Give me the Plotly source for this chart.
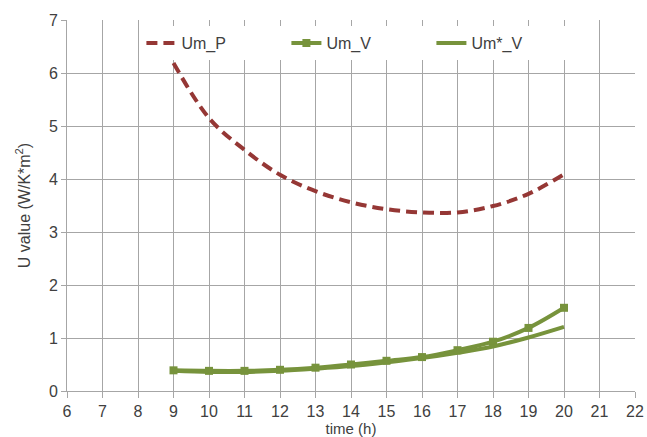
import plotly.graph_objects as go

hours = [9, 10, 11, 12, 13, 14, 15, 16, 17, 18, 19, 20]
um_p = [6.19, 5.15, 4.55, 4.08, 3.77, 3.56, 3.43, 3.37, 3.37, 3.49, 3.72, 4.09]
um_v = [0.39, 0.38, 0.38, 0.40, 0.44, 0.50, 0.57, 0.64, 0.77, 0.93, 1.19, 1.57]
um_star_v = [0.38, 0.36, 0.36, 0.38, 0.42, 0.47, 0.54, 0.62, 0.72, 0.84, 1.01, 1.21]

red = "#953735"
green = "#77933C"
grid = "#A6A6A6"
font = "Liberation Sans"

fig = go.Figure()
fig.add_trace(go.Scatter(x=hours, y=um_p, name="Um_P", mode="lines",
                         line=dict(color=red, width=4, dash="11px,6px", shape="spline")))
fig.add_trace(go.Scatter(x=hours, y=um_v, name="Um_V", mode="lines+markers",
                         line=dict(color=green, width=4, shape="spline"),
                         marker=dict(symbol="square", size=8, color=green)))
fig.add_trace(go.Scatter(x=hours, y=um_star_v, name="Um*_V", mode="lines",
                         line=dict(color=green, width=4, shape="spline")))

fig.update_layout(
    width=647, height=437,
    margin=dict(l=67, r=12, t=20, b=46),
    paper_bgcolor="white", plot_bgcolor="white",
    font=dict(family=font, size=16, color="#404040"),
    showlegend=True,
    legend=dict(orientation="h", x=0.131, y=0.938, xanchor="left", yanchor="middle",
                bgcolor="white", font=dict(size=16, color="#404040"),
                entrywidth=100, entrywidthmode="pixels", itemwidth=30,
                tracegroupgap=0),
    xaxis=dict(range=[6, 22], dtick=1, tick0=6, showgrid=True, gridcolor=grid, gridwidth=1,
               showline=True, linecolor=grid, linewidth=1, ticks="outside", ticklen=6,
               tickcolor=grid, zeroline=False, automargin=False,
               title=dict(text="time (h)", font=dict(size=15), standoff=3)),
    yaxis=dict(range=[0, 7], dtick=1, tick0=0, showgrid=True, gridcolor=grid, gridwidth=1,
               showline=True, linecolor=grid, linewidth=1, ticks="outside", ticklen=5,
               tickcolor=grid, zeroline=False, automargin=False,
               title=dict(text="U value (W/K*m<sup>2</sup>)", font=dict(size=16), standoff=14)),
)

fig.write_html("out.html", config={"displayModeBar": False},
               post_script="document.body.style.margin='0';document.body.style.overflow='hidden';")
